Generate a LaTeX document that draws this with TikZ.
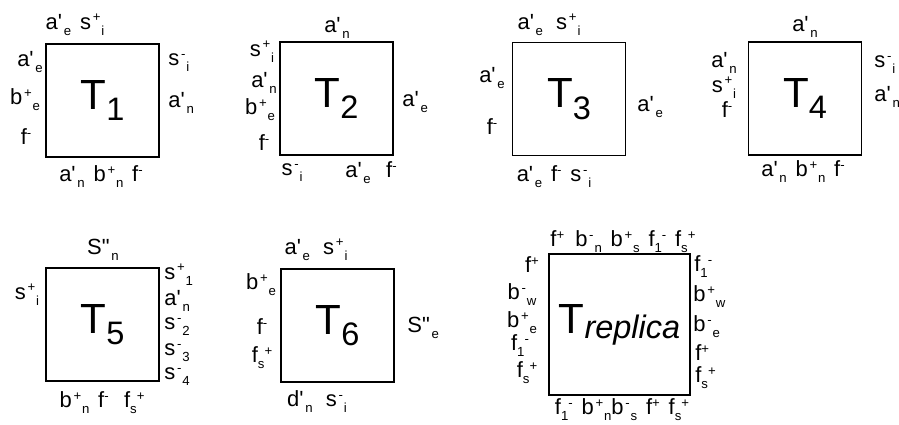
\documentclass[tikz,border=0pt]{standalone}
\usepackage{fontspec}
\setmainfont{Liberation Sans}
\usepackage{tikz}
\newcommand{\spU}[1]{\raisebox{0.36em}{\fontsize{7.5}{8}\selectfont#1}}
\newcommand{\spD}[1]{\raisebox{-0.27em}{\fontsize{7.5}{8}\selectfont#1}}
\newcommand{\sud}[3]{#1\kern0.08em\spU{#2}\kern0.04em\spD{#3}}
\newcommand{\sprm}[2]{#1\textquotesingle\kern0.08em\spD{#2}}
\newcommand{\ttl}[1]{T\raisebox{-0.27em}{\fontsize{18.5}{20}\selectfont #1}}
\newcommand{\tagfont}{\fontsize{12.5}{14}\selectfont\spaceskip=0.4em\relax}

\begin{document}
\begin{tikzpicture}[x=0.02cm, y=-0.02cm,
  tile/.style={draw, line width=1.1pt, minimum size=2.26cm, inner sep=0pt,
    font=\fontsize{24}{26}\selectfont},
  tag/.style={inner sep=0pt, font=\tagfont},
  tagr/.style={tag, anchor=west}]
\useasboundingbox (0,0) rectangle (899,425);

\node[tile] (t1) at (102.5,100.5) {\ttl{1}};
\node[tag] (t1n) at (75,25) {\sprm{a}{e} \sud{s}{+}{i}};
\node[tag] (t1w1) at (30,62) {\sprm{a}{e}};
\node[tag] (t1w2) at (25,100) {\sud{b}{+}{e}};
\node[tag] (t1w3) at (26,137) {f\spU{-}};
\node[tagr] (t1e1) at (168,63) {\sud{s}{-}{i}};
\node[tagr] (t1e2) at (168,103) {\sprm{a}{n}};
\node[tag] (t1s) at (101,177) {\sprm{a}{n} \sud{b}{+}{n} f\spU{-}};

\node[tile] (t2) at (336.5,98.5) {\ttl{2}};
\node[tag] (t2n) at (337,28) {\sprm{a}{n}};
\node[tag] (t2w1) at (262,52) {\sud{s}{+}{i}};
\node[tag] (t2w2) at (264,83) {\sprm{a}{n}};
\node[tag] (t2w3) at (260,110) {\sud{b}{+}{e}};
\node[tag] (t2w4) at (264,143) {f\spU{-}};
\node[tagr] (t2e) at (402,102) {\sprm{a}{e}};
\node[tag] (t2s1) at (292,173) {\sud{s}{-}{i}};
\node[tag] (t2s2) at (371,173) {\sprm{a}{e}\hspace{0.7em}f\spU{-}};

\node[tile] (t3) at (569,99) {\ttl{3}};
\node[tag] (t3n) at (549,25) {\sprm{a}{e}\hspace{0.6em}\sud{s}{+}{i}};
\node[tag] (t3w1) at (492,78) {\sprm{a}{e}};
\node[tag] (t3w2) at (492,127) {f\spU{-}};
\node[tagr] (t3e) at (637,107) {\sprm{a}{e}};
\node[tag] (t3s) at (554,177) {\sprm{a}{e} f\spU{-} \sud{s}{-}{i}};

\node[tile] (t4) at (805,98.5) {\ttl{4}};
\node[tag] (t4n) at (805,27) {\sprm{a}{n}};
\node[tag] (t4w1) at (724,63) {\sprm{a}{n}};
\node[tag] (t4w2) at (724,88) {\sud{s}{+}{i}};
\node[tag] (t4w3) at (727,110) {f\spU{-}};
\node[tagr] (t4e1) at (874,65) {\sud{s}{-}{i}};
\node[tagr] (t4e2) at (874,97) {\sprm{a}{n}};
\node[tag] (t4s) at (803,172) {\sprm{a}{n} \sud{b}{+}{n} f\spU{-}};

\node[tile] (t5) at (102.5,324.5) {\ttl{5}};
\node[tag] (t5n) at (103,250) {S\textquotedbl\kern0.08em\spD{n}};
\node[tag] (t5w) at (27,295) {\sud{s}{+}{i}};
\node[tagr] (t5e1) at (164,275) {\sud{s}{+}{1}};
\node[tagr] (t5e2) at (164,301) {\sprm{a}{n}};
\node[tagr] (t5e3) at (164,327) {\sud{s}{-}{2}};
\node[tagr] (t5e4) at (164,353) {\sud{s}{-}{3}};
\node[tagr] (t5e5) at (164,377) {\sud{s}{-}{4}};
\node[tag] (t5s) at (102,403) {\sud{b}{+}{n} f\spU{-}\hspace{0.7em}f\spD{s}\spU{+}};

\node[tile] (t6) at (337.5,325.5) {\ttl{6}};
\node[tag] (t6n) at (316,250) {\sprm{a}{e}\hspace{0.6em}\sud{s}{+}{i}};
\node[tag] (t6w1) at (261,285) {\sud{b}{+}{e}};
\node[tag] (t6w2) at (262,327) {f\spU{-}};
\node[tag] (t6w3) at (262,358) {f\spD{s}\spU{+}};
\node[tagr] (t6e) at (407,328) {S\textquotedbl\kern0.08em\spD{e}};
\node[tag] (t6s) at (317,402) {\sprm{d}{n}\hspace{0.6em}\sud{s}{-}{i}};

\node[tile, minimum size=2.82cm] (tr) at (619.5,324.5)
  {T\raisebox{-2.8pt}{\fontsize{18.5}{20}\selectfont\itshape replica}};
\node[tag] (trn) at (623,242) {f\spU{+}\hspace{0.5em}\sud{b}{-}{n} \sud{b}{+}{s} f\spD{1}\spU{-} f\spD{s}\spU{+}};
\node[tag] (trw1) at (532,265) {f\spU{+}};
\node[tag] (trw2) at (522,295) {\sud{b}{-}{w}};
\node[tag] (trw3) at (522,323) {\sud{b}{+}{e}};
\node[tag] (trw4) at (520,346) {f\spD{1}\spU{-}};
\node[tag] (trw5) at (527,373) {f\spD{s}\spU{+}};
\node[tagr] (tre1) at (694,267) {f\spD{1}\spU{-}};
\node[tagr] (tre2) at (693,297) {\sud{b}{+}{w}};
\node[tagr] (tre3) at (693,327) {\sud{b}{-}{e}};
\node[tagr] (tre4) at (695,353) {f\spU{+}};
\node[tagr] (tre5) at (695,378) {f\spD{s}\spU{+}};
\node[tag] (trs) at (622,410) {f\spD{1}\spU{-} \sud{b}{+}{n}\sud{b}{-}{s} f\spU{+} f\spD{s}\spU{+}};
\end{tikzpicture}
\end{document}
